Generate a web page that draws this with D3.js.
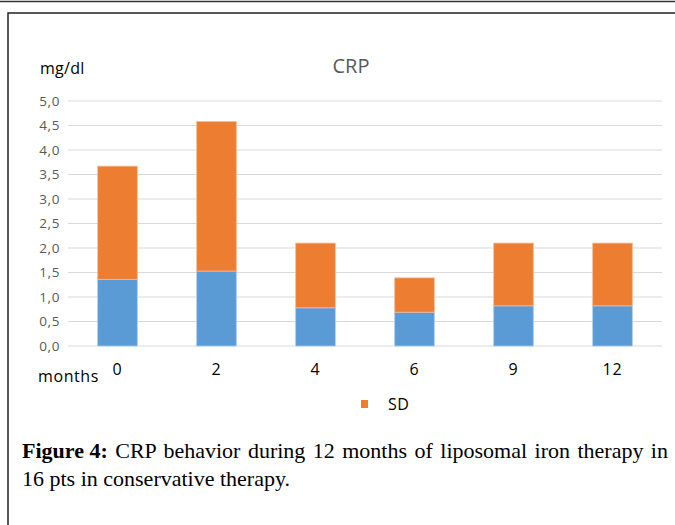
<!DOCTYPE html>
<html>
<head>
<meta charset="utf-8">
<script src="https://cdn.jsdelivr.net/npm/d3@7"></script>
<style>
	body { margin: 0; background: #fff; }
	svg { display: block; }
</style>
</head>
<body>
<div id="chart"></div>
<script>

// data
let months     = ["0", "2", "4", "6", "9", "12"],
	meanValues = [1.36, 1.53, 0.78, 0.69, 0.82, 0.82],
	sdValues   = [2.31, 3.05, 1.32, 0.70, 1.28, 1.28],
	yTicks     = [0, 0.5, 1, 1.5, 2, 2.5, 3, 3.5, 4, 4.5, 5];

let width  = 675,
	height = 525;

let svg = d3.select("#chart")
	.append("svg")
		.attr("width", width)
		.attr("height", height);

// page frame lines
svg.append("line")
	.attr("x1", 0).attr("x2", width)
	.attr("y1", 1.5).attr("y2", 1.5)
	.attr("stroke", "#333").attr("stroke-width", 1.5);

svg.append("path")
	.attr("d", "M8," + height + " V13 H" + width)
	.attr("fill", "none")
	.attr("stroke", "#222")
	.attr("stroke-width", 1.5);

let plot = { left: 68, right: 662, top: 101, bottom: 346 };

let xScale = d3.scaleBand()
	.domain(months)
	.range([plot.left, plot.right])
	.paddingInner(0.6)
	.paddingOuter(0.3);

let yScale = d3.scaleLinear()
	.domain([0, 5])
	.range([plot.bottom, plot.top]);

let chartFont = "'Open Sans', Lato, sans-serif";

// gridlines
svg.append("g")
	.selectAll("line")
	.data(yTicks)
	.enter()
		.append("line")
			.attr("x1", plot.left)
			.attr("x2", plot.right)
			.attr("y1", function (d) { return yScale(d); })
			.attr("y2", function (d) { return yScale(d); })
			.attr("stroke", "#d9d9d9")
			.attr("stroke-width", 1.2);

// y axis labels
let yAxis = d3.axisLeft(yScale)
	.tickValues(yTicks)
	.tickSize(0)
	.tickPadding(8)
	.tickFormat(function (d) { return d3.format(".1f")(d).replace(".", ","); });

let yAxisG = svg.append("g")
	.attr("transform", "translate(" + plot.left + ",0)")
	.call(yAxis);

yAxisG.select(".domain").remove();
yAxisG.selectAll("text")
	.attr("font-family", chartFont)
	.attr("font-size", 13.5)
	.attr("letter-spacing", 0.6)
	.attr("fill", "#595959");

// stacked bars
let stacked = months.map(function (m, i) {
	return { month: m, mean: meanValues[i], sd: sdValues[i] };
});

let barG = svg.append("g");

barG.selectAll(".mean")
	.data(stacked)
	.enter()
		.append("rect")
			.attr("x", function (d) { return xScale(d.month); })
			.attr("y", function (d) { return yScale(d.mean); })
			.attr("width", xScale.bandwidth())
			.attr("height", function (d) { return yScale(0) - yScale(d.mean); })
			.attr("fill", "#5b9bd5")
			.attr("stroke", "#a9cbeb")
			.attr("stroke-width", 0.8);

barG.selectAll(".sd")
	.data(stacked)
	.enter()
		.append("rect")
			.attr("x", function (d) { return xScale(d.month); })
			.attr("y", function (d) { return yScale(d.mean + d.sd); })
			.attr("width", xScale.bandwidth())
			.attr("height", function (d) { return yScale(d.mean) - yScale(d.mean + d.sd); })
			.attr("fill", "#ed7d31")
			.attr("stroke", "#f6b891")
			.attr("stroke-width", 0.8);

// x axis labels
let xAxis = d3.axisBottom(xScale)
	.tickSize(0)
	.tickPadding(18);

let xAxisG = svg.append("g")
	.attr("transform", "translate(0," + plot.bottom + ")")
	.call(xAxis);

xAxisG.select(".domain").remove();
xAxisG.selectAll("text")
	.attr("font-family", chartFont)
	.attr("font-size", 16)
	.attr("letter-spacing", 0.8)
	.attr("fill", "#000");

// titles
svg.append("text")
	.attr("x", 351)
	.attr("y", 73)
	.attr("text-anchor", "middle")
	.attr("font-family", chartFont)
	.attr("font-size", 20)
	.attr("fill", "#595959")
	.text("CRP");

svg.append("text")
	.attr("x", 40)
	.attr("y", 74)
	.attr("font-family", chartFont)
	.attr("font-size", 16)
	.attr("letter-spacing", 0.3)
	.attr("fill", "#000")
	.text("mg/dl");

svg.append("text")
	.attr("x", 38)
	.attr("y", 382)
	.attr("font-family", chartFont)
	.attr("font-size", 16)
	.attr("letter-spacing", 0.6)
	.attr("fill", "#000")
	.text("months");

// legend
svg.append("rect")
	.attr("x", 361)
	.attr("y", 400)
	.attr("width", 7)
	.attr("height", 8)
	.attr("fill", "#ed7d31");

svg.append("text")
	.attr("x", 388)
	.attr("y", 410)
	.attr("font-family", chartFont)
	.attr("font-size", 16)
	.attr("letter-spacing", 0.5)
	.attr("fill", "#000")
	.text("SD");

// caption (first line justified to the frame width)
let caption = svg.append("text")
	.attr("font-family", "'Liberation Serif', 'Times New Roman', serif")
	.attr("font-size", 22)
	.attr("fill", "#000");

let line1 = caption.append("tspan")
	.attr("x", 22)
	.attr("y", 458);

line1.append("tspan")
	.attr("font-weight", "bold")
	.text("Figure 4:");

let line1Rest = line1.append("tspan")
	.text(" CRP behavior during 12 months of liposomal iron therapy in");

caption.append("tspan")
	.attr("x", 22)
	.attr("y", 486)
	.text("16 pts in conservative therapy.");

let boldW = line1.select("tspan").node().getComputedTextLength(),
	restW = line1Rest.node().getComputedTextLength(),
	spaces = 10,
	targetW = 668 - 22,
	extra = (targetW - boldW - restW) / spaces;

line1Rest.attr("word-spacing", Math.max(0, extra));

</script>
</body>
</html>
